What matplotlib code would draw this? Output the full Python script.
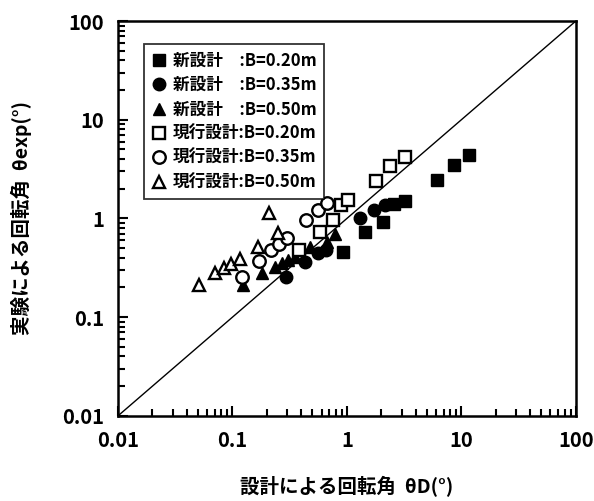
import matplotlib.pyplot as plt
from matplotlib.ticker import LogLocator, NullFormatter, FixedFormatter, FixedLocator

plt.rcParams['font.family'] = ['Noto Sans CJK JP', 'DejaVu Sans']

# 新設計 B=0.20m (filled square)
new020_x = [0.93, 1.45, 2.08, 2.6, 3.2, 6.07, 8.55, 11.6]
new020_y = [0.46, 0.73, 0.92, 1.40, 1.50, 2.46, 3.48, 4.39]
# 新設計 B=0.35m (filled circle)
new035_x = [0.295, 0.433, 0.563, 0.66, 1.31, 1.74, 2.17]
new035_y = [0.256, 0.362, 0.448, 0.48, 1.01, 1.22, 1.38]
# 新設計 B=0.50m (filled triangle)
new050_x = [0.124, 0.182, 0.237, 0.272, 0.308, 0.354, 0.48, 0.675, 0.793]
new050_y = [0.212, 0.281, 0.323, 0.356, 0.38, 0.408, 0.515, 0.578, 0.697]
# 現行設計 B=0.20m (open square)
cur020_x = [0.384, 0.586, 0.762, 0.895, 1.03, 1.81, 2.40, 3.19]
cur020_y = [0.48, 0.73, 0.966, 1.37, 1.54, 2.40, 3.40, 4.20]
# 現行設計 B=0.35m (open circle)
cur035_x = [0.122, 0.171, 0.218, 0.257, 0.301, 0.442, 0.563, 0.675]
cur035_y = [0.256, 0.371, 0.48, 0.552, 0.635, 0.966, 1.22, 1.44]
# 現行設計 B=0.50m (open triangle)
cur050_x = [0.051, 0.0707, 0.0847, 0.0975, 0.117, 0.168, 0.21, 0.251]
cur050_y = [0.212, 0.281, 0.315, 0.346, 0.389, 0.515, 1.14, 0.713]

labels = ["新設計\u3000:B=0.20m", "新設計\u3000:B=0.35m", "新設計\u3000:B=0.50m",
          "現行設計:B=0.20m", "現行設計:B=0.35m", "現行設計:B=0.50m"]
tick_vals = [0.01, 0.1, 1, 10, 100]
tick_text = ["0.01", "0.1", "1", "10", "100"]

fig = plt.figure(figsize=(5.94, 5.01), dpi=100)
ax = fig.add_axes([0.1987, 0.170, 0.7707, 0.788])

ax.plot([0.01, 100], [0.01, 100], color='black', lw=1.0, zorder=1)

ms = 8.5
mew = 1.7
ax.plot(new020_x, new020_y, 's', ms=ms, mfc='black', mec='black', label=labels[0])
ax.plot(new035_x, new035_y, 'o', ms=ms + 0.5, mfc='black', mec='black', label=labels[1])
ax.plot(new050_x, new050_y, '^', ms=ms + 0.5, mfc='black', mec='black', label=labels[2])
ax.plot(cur020_x, cur020_y, 's', ms=ms, mfc='white', mec='black', mew=mew, label=labels[3])
ax.plot(cur035_x, cur035_y, 'o', ms=ms + 0.5, mfc='white', mec='black', mew=mew, label=labels[4])
ax.plot(cur050_x, cur050_y, '^', ms=ms + 0.5, mfc='white', mec='black', mew=mew, label=labels[5])

ax.set_xscale('log')
ax.set_yscale('log')
ax.set_xlim(0.01, 100)
ax.set_ylim(0.01, 100)

for axis in (ax.xaxis, ax.yaxis):
    axis.set_major_locator(FixedLocator(tick_vals))
    axis.set_major_formatter(FixedFormatter(tick_text))
    axis.set_minor_locator(LogLocator(base=10, subs=range(2, 10), numticks=20))
    axis.set_minor_formatter(NullFormatter())

ax.tick_params(which='both', direction='in', top=False, right=False, width=1.5)
ax.tick_params(which='major', length=7, labelsize=14.5, pad=10)
ax.tick_params(which='minor', length=5)
for lab in ax.get_xticklabels() + ax.get_yticklabels():
    lab.set_fontweight('bold')

for s in ax.spines.values():
    s.set_linewidth(1.8)

ax.set_xlabel("設計による回転角  θD(°)", fontsize=14, fontweight='bold', labelpad=18)
ax.set_ylabel("実験による回転角  θexp(°)", fontsize=14, fontweight='bold', labelpad=22)

leg = ax.legend(loc='upper left', bbox_to_anchor=(0.038, 0.962), frameon=True, fancybox=False,
                edgecolor='black', handlelength=0.9, handletextpad=0.4,
                labelspacing=0.38, borderpad=0.45, markerscale=1.0,
                prop={'family': ['Noto Sans CJK JP', 'DejaVu Sans'], 'weight': 'bold', 'size': 12})
leg.get_frame().set_linewidth(1.3)

fig.savefig("out.png", dpi=100)
